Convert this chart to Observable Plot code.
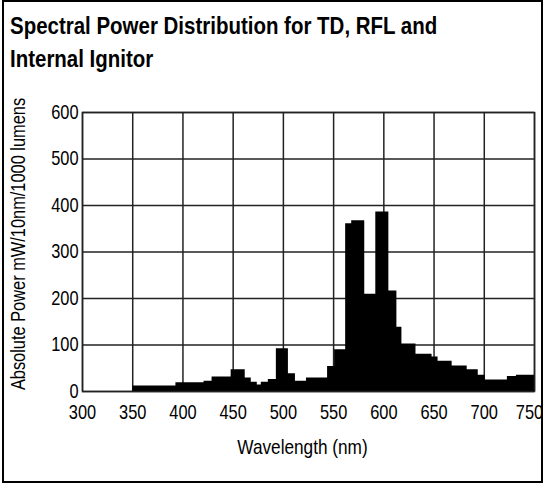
<!DOCTYPE html>
<html>
<head>
<meta charset="utf-8">
<script src="https://cdn.jsdelivr.net/npm/d3@7"></script>
<script src="https://cdn.jsdelivr.net/npm/@observablehq/plot@0.6"></script>
<style>
  html, body { margin: 0; padding: 0; background: #fff; }
  #wrap { position: relative; width: 543px; height: 483px; overflow: hidden; }
  #border { position: absolute; left: 2px; top: 0px; width: 537px; height: 479px; border: 2px solid #000; pointer-events: none; }
  #title { position: absolute; left: 10px; top: 10px; font-family: "Liberation Sans", Arial, sans-serif; font-weight: bold; font-size: 23px; line-height: 33px; color: #000; white-space: nowrap; transform: scaleX(0.89); transform-origin: 0 0; }
  #chart { position: absolute; left: 0; top: 80px; }
  #chart svg { overflow: visible; }
</style>
</head>
<body>
<div id="wrap">
  <div id="title">Spectral Power Distribution for TD, RFL and<br>Internal Ignitor</div>
  <div id="chart"></div>
  <div id="border"></div>
</div>
<script>
const binStart = [350, 393, 421, 429, 448, 462, 468, 474, 478, 485, 493, 505, 512, 523, 544, 551, 562, 568, 581, 592, 605, 613, 618, 632, 648, 654, 668, 683, 694, 701, 723, 732];
const binEnd   = [393, 421, 429, 448, 462, 468, 474, 478, 485, 493, 505, 512, 523, 544, 551, 562, 568, 581, 592, 605, 613, 618, 632, 648, 654, 668, 683, 694, 701, 723, 732, 750];
const power    = [12, 19, 22, 31, 47, 29, 20, 14, 20, 26, 92, 38, 22, 29, 54, 90, 361, 367, 209, 386, 216, 138, 102, 80, 74, 65, 55, 47, 35, 25, 32, 35];
const xTicks = [300, 350, 400, 450, 500, 550, 600, 650, 700, 750];
const yTicks = [0, 100, 200, 300, 400, 500, 600];
const xLabel = "Wavelength (nm)";
const yLabel = "Absolute Power mW/10nm/1000 lumens";

// step outline: each bin start, plus the final bin end
const steps = binStart.map((s, i) => ({x: s, y: power[i]}));
steps.push({x: binEnd[binEnd.length - 1], y: power[power.length - 1]});

const font = '"Liberation Sans", Arial, sans-serif';
const FS = 20;

const chart = Plot.plot({
  width: 543,
  height: 403,
  marginLeft: 82,
  marginRight: 9,
  marginTop: 32,
  marginBottom: 92,
  style: {fontFamily: font, fontSize: FS + "px", color: "#000", background: "transparent", overflow: "visible"},
  x: {domain: [300, 750], label: null},
  y: {domain: [0, 600], label: null},
  marks: [
    Plot.gridX(xTicks, {stroke: "#222", strokeOpacity: 1, strokeWidth: 1.5}),
    Plot.gridY(yTicks, {stroke: "#222", strokeOpacity: 1, strokeWidth: 1.5}),
    Plot.areaY(steps, {x: "x", y: "y", curve: "step-after", fill: "#000"}),
    Plot.frame({stroke: "#222", strokeWidth: 1.5}),
    Plot.axisX(xTicks, {tickSize: 0, tickPadding: 13, fontSize: FS, label: null}),
    Plot.axisY(yTicks, {tickSize: 0, tickPadding: 4, fontSize: FS, label: null}),
    Plot.text([xLabel], {frameAnchor: "bottom", dx: -6, dy: 62, fontSize: 21, text: d => d}),
    Plot.text([yLabel], {frameAnchor: "left", textAnchor: "middle", dx: -64, dy: -8, rotate: -90, fontSize: FS, text: d => d})
  ]
});

// condense all chart texts along their reading direction, about their own anchor point
function num(v) {
  if (v == null) return 0;
  const n = parseFloat(v);
  if (isNaN(n)) return 0;
  return /em$/.test(v) ? n * FS : n;
}
chart.querySelectorAll("text").forEach(t => {
  const tr = t.getAttribute("transform") || "";
  const x0 = num(t.getAttribute("x"));
  const y0 = num(t.getAttribute("y"));
  t.setAttribute("transform", `${tr} translate(${x0},${y0}) scale(0.82,1) translate(${-x0},${-y0})`.trim());
});
// the last x tick label sits against the frame border, as in the source
chart.querySelectorAll("text").forEach(t => {
  if (t.textContent === "750") {
    const tr = t.getAttribute("transform") || "";
    t.setAttribute("transform", `translate(-5,0) ${tr}`);
  }
});

document.getElementById("chart").appendChild(chart);
</script>
</body>
</html>
